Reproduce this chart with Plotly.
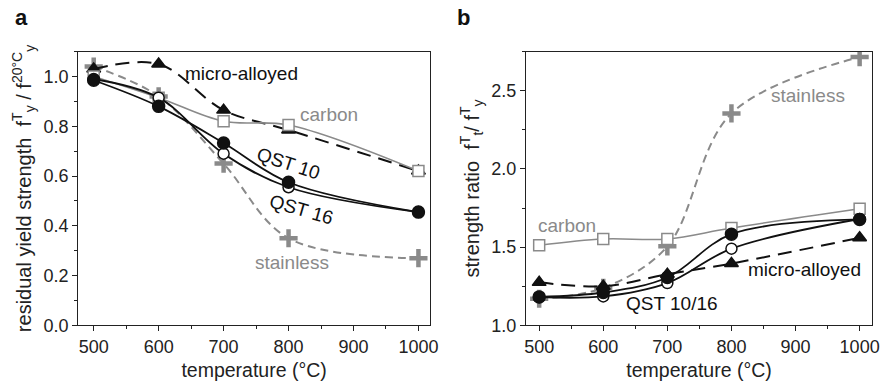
import plotly.graph_objects as go

temps = [500, 600, 700, 800, 1000]

# Panel a: residual yield strength
a_stainless = [1.04, 0.92, 0.65, 0.35, 0.27]
a_micro = [1.03, 1.05, 0.865, 0.785, 0.62]
a_carbon = [1.00, 0.915, 0.82, 0.805, 0.62]
a_qst16 = [0.99, 0.915, 0.69, 0.555, 0.455]
a_qst10 = [0.985, 0.88, 0.733, 0.575, 0.455]

# Panel b: strength ratio
b_stainless = [1.17, 1.24, 1.505, 2.355, 2.715]
b_micro = [1.275, 1.25, 1.327, 1.395, 1.56]
b_carbon = [1.512, 1.552, 1.552, 1.622, 1.745]
b_qst16 = [1.18, 1.185, 1.27, 1.49, 1.68]
b_qst10 = [1.182, 1.21, 1.306, 1.583, 1.677]

GRAY = "#8a8a8a"
BLACK = "#111111"
FONT = "Liberation Sans, Arial, sans-serif"

fig = go.Figure()

def add_series(xa, ya, ys, color, dash, width, symbol, mcolor, mline, msize, mlw=1.5):
    fig.add_trace(go.Scatter(
        x=temps, y=ys, xaxis=xa, yaxis=ya, mode="lines+markers",
        line=dict(color=color, dash=dash, width=width, shape="spline", smoothing=1.0),
        marker=dict(symbol=symbol, color=mcolor, size=msize,
                    line=dict(color=mline, width=mlw)),
        showlegend=False, hoverinfo="skip"))

for xa, ya, st, mi, ca, q16, q10 in [
    ("x", "y", a_stainless, a_micro, a_carbon, a_qst16, a_qst10),
    ("x2", "y2", b_stainless, b_micro, b_carbon, b_qst16, b_qst10)]:
    add_series(xa, ya, st, GRAY, "8px,5px", 2, "cross-thin", GRAY, GRAY, 13, 4.5)
    add_series(xa, ya, mi, BLACK, "14px,8px", 2, "triangle-up", BLACK, BLACK, 12)
    add_series(xa, ya, ca, GRAY, "solid", 1.6, "square", "white", GRAY, 11)
    add_series(xa, ya, q16, BLACK, "solid", 1.8, "circle", "white", BLACK, 11)
    add_series(xa, ya, q10, BLACK, "solid", 1.8, "circle", BLACK, BLACK, 12)

axis_common = dict(showgrid=False, zeroline=False, showline=True, mirror=True,
                   linecolor="#222", linewidth=1.2, ticks="outside", ticklen=5,
                   tickcolor="#222", tickfont=dict(family=FONT, size=18, color="#222"))

fig.update_layout(
    width=894, height=386, margin=dict(l=0, r=0, t=0, b=0),
    plot_bgcolor="white", paper_bgcolor="white",
    font=dict(family=FONT, size=19, color="#222"),
    xaxis=dict(domain=[0.0861, 0.4843], range=[476, 1018], tickvals=[500, 600, 700, 800, 900, 1000],
               minor=dict(ticks="outside", ticklen=3, dtick=50, tick0=500, tickcolor="#222"),
               title=dict(text="temperature (°C)", font=dict(size=19.5), standoff=7), anchor="y",
               **axis_common),
    yaxis=dict(domain=[0.1347, 0.8627], range=[0, 1.1], tickvals=[0, 0.2, 0.4, 0.6, 0.8, 1.0],
               tickformat=".1f",
               minor=dict(ticks="outside", ticklen=3, dtick=0.1, tick0=0, tickcolor="#222"),
               title=dict(text="residual yield strength  f<sup>T</sup><sub>y</sub> / f<sup>20°C</sup><sub>y</sub>",
                          font=dict(size=20), standoff=6), anchor="x",
               **axis_common),
    xaxis2=dict(domain=[0.5928, 0.9843], range=[479.5, 1019.5], tickvals=[500, 600, 700, 800, 900, 1000],
                minor=dict(ticks="outside", ticklen=3, dtick=50, tick0=500, tickcolor="#222"),
                title=dict(text="temperature (°C)", font=dict(size=19.5), standoff=7), anchor="y2",
                **axis_common),
    yaxis2=dict(domain=[0.1347, 0.8627], range=[1.0, 2.75], tickvals=[1.0, 1.5, 2.0, 2.5],
                tickformat=".1f",
                minor=dict(ticks="outside", ticklen=3, dtick=0.25, tick0=1.0, tickcolor="#222"),
                title=dict(text="strength ratio  f<sup>T</sup><sub>t</sub>/ f<sup>T</sup><sub>y</sub>",
                           font=dict(size=20), standoff=6), anchor="x2",
                **axis_common),
)

ann = [
    ("x", "y", 637, 1.013, "micro-alloyed", BLACK, "left", 0),
    ("x", "y", 815, 0.848, "carbon", GRAY, "left", 0),
    ("x", "y", 800, 0.652, "QST 10", BLACK, "center", 18),
    ("x", "y", 820, 0.467, "QST 16", BLACK, "center", 16),
    ("x", "y", 805, 0.251, "stainless", GRAY, "center", 0),
    ("x2", "y2", 919, 2.47, "stainless", GRAY, "center", 0),
    ("x2", "y2", 544, 1.6375, "carbon", GRAY, "center", 0),
    ("x2", "y2", 914, 1.356, "micro-alloyed", BLACK, "center", 0),
    ("x2", "y2", 708, 1.1375, "QST 10/16", BLACK, "center", 0),
]
for xr, yr, x, y, t, c, xanc, ang in ann:
    fig.add_annotation(xref=xr, yref=yr, x=x, y=y, text=t, showarrow=False,
                       xanchor=xanc, yanchor="middle", textangle=ang,
                       font=dict(family=FONT, size=19, color=c))

fig.add_annotation(xref="paper", yref="paper", x=0.012, y=0.953, text="<b>a</b>", showarrow=False,
                   xanchor="left", yanchor="middle", font=dict(family=FONT, size=22, color="#111"))
fig.add_annotation(xref="paper", yref="paper", x=0.512, y=0.953, text="<b>b</b>", showarrow=False,
                   xanchor="left", yanchor="middle", font=dict(family=FONT, size=22, color="#111"))

fig.write_html("out.html")
